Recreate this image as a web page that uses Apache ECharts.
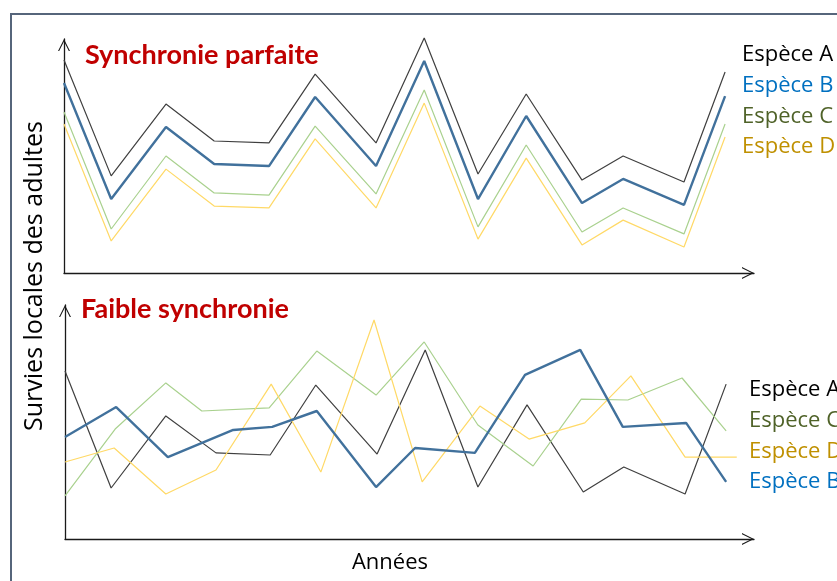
<!DOCTYPE html>
<html>
<head>
<meta charset="utf-8">
<script src="https://cdn.jsdelivr.net/npm/echarts@6/dist/echarts.min.js"></script>
<style>
  html, body { margin: 0; padding: 0; background: #fff; }
  #chart { width: 837px; height: 581px; }
</style>
</head>
<body>
<div id="chart"></div>
<script>
// Top panel: perfect synchrony (same years for all species)
const topYears = [0, 0.93, 2.01, 2.96, 4.04, 4.95, 6.15, 7.10, 8.16, 9.11, 10.21, 11.02, 12.22, 13.03];
const topA = [91.0, 41.5, 72.2, 56.4, 55.6, 85.0, 55.6, 100.4, 42.3, 76.5, 39.7, 50.0, 38.9, 85.9];
const topB = [81.2, 31.6, 62.4, 46.6, 45.7, 75.2, 45.7, 90.6, 31.6, 67.1, 29.9, 40.2, 29.1, 75.6];
const topC = [68.8, 18.8, 50.0, 34.2, 33.3, 62.8, 33.8, 78.2, 19.7, 54.7, 17.5, 27.8, 16.7, 63.7];
const topD = [63.7, 13.7, 44.4, 28.6, 27.8, 57.3, 27.8, 72.6, 14.5, 49.1, 12.0, 22.6, 11.1, 58.1];

// Bottom panel: weak synchrony (hand drawn, years differ slightly)
const lowYearsA = [0, 0.91, 1.99, 2.98, 4.05, 4.95, 6.16, 7.11, 8.15, 9.12, 10.23, 11.03, 12.24, 13.05];
const lowA = [71.8, 21.8, 52.6, 36.8, 35.9, 65.8, 36.3, 80.8, 22.2, 57.3, 20.1, 30.8, 19.2, 66.2];
const lowYearsB = [0, 1.01, 2.03, 3.32, 4.09, 4.97, 6.14, 6.91, 8.09, 9.08, 10.17, 11.01, 12.26, 13.05];
const lowB = [43.6, 56.4, 35.0, 46.6, 47.9, 54.7, 22.2, 38.9, 36.8, 70.1, 80.8, 47.9, 49.6, 24.4];
const lowYearsC = [0, 0.99, 1.99, 2.70, 4.03, 4.97, 6.14, 7.09, 8.15, 9.24, 10.19, 11.11, 12.18, 13.05];
const lowC = [18.4, 47.0, 66.7, 54.7, 56.0, 80.3, 61.5, 84.2, 48.7, 31.2, 59.8, 59.4, 68.8, 46.2];
const lowYearsD = [0, 0.97, 1.99, 2.98, 4.07, 5.05, 6.10, 7.05, 8.19, 9.16, 10.26, 11.17, 12.24, 13.07, 13.26];
const lowD = [32.9, 38.9, 19.2, 29.5, 66.2, 28.6, 93.6, 24.4, 56.8, 42.7, 49.6, 69.7, 35.0, 35.0, 35.0];

const speciesTop = ['Espèce A', 'Espèce B', 'Espèce C', 'Espèce D'];
const speciesLow = ['Espèce A', 'Espèce C', 'Espèce D', 'Espèce B'];

const lineColors = { 'Espèce A': '#3f3f3f', 'Espèce B': '#41719c', 'Espèce C': '#a9d18e', 'Espèce D': '#ffd966' };
const lineWidths = { 'Espèce A': 1.2, 'Espèce B': 2.4, 'Espèce C': 1.2, 'Espèce D': 1.2 };
const textColors = { 'Espèce A': '#000000', 'Espèce B': '#0070c0', 'Espèce C': '#4f6228', 'Espèce D': '#bf9000' };

const chart = echarts.init(document.getElementById('chart'), null, { renderer: 'canvas' });

const pairs = (xs, ys) => xs.map((x, i) => [x, ys[i]]);
const arrowPath = 'path://M0,10 L5,0 L10,10 L9,10 L5,2 L1,10 Z';

const axisLine = {
  show: true,
  symbol: ['none', arrowPath],
  symbolSize: [12, 12],
  symbolOffset: [0, -6],
  lineStyle: { color: '#1a1a1a', width: 1.3 }
};

const makeX = gridIndex => ({
  type: 'value', gridIndex, min: 0, max: 13.6,
  axisLine, axisTick: { show: false }, axisLabel: { show: false }, splitLine: { show: false }
});
const makeY = gridIndex => ({
  type: 'value', gridIndex, min: 0, max: 100,
  axisLine, axisTick: { show: false }, axisLabel: { show: false }, splitLine: { show: false }
});

const makeLine = (name, data, idx) => ({
  name, type: 'line', xAxisIndex: idx, yAxisIndex: idx,
  data, symbol: 'none', clip: false, animation: false,
  lineStyle: { color: lineColors[name], width: lineWidths[name] },
  z: name === 'Espèce B' ? 3 : 2
});

const topData = { 'Espèce A': pairs(topYears, topA), 'Espèce B': pairs(topYears, topB), 'Espèce C': pairs(topYears, topC), 'Espèce D': pairs(topYears, topD) };
const lowData = { 'Espèce A': pairs(lowYearsA, lowA), 'Espèce B': pairs(lowYearsB, lowB), 'Espèce C': pairs(lowYearsC, lowC), 'Espèce D': pairs(lowYearsD, lowD) };

const legendText = (list, x, y0, step) => list.map((name, i) => ({
  type: 'text', x, y: y0 + i * step,
  style: { text: name, fill: textColors[name], font: '22px "Open Sans"', align: 'left', verticalAlign: 'middle' }
}));

chart.setOption({
  animation: false,
  grid: [
    { left: 64, top: 39, width: 690, height: 234 },
    { left: 65, top: 305, width: 689, height: 234 }
  ],
  xAxis: [makeX(0), makeX(1)],
  yAxis: [makeY(0), makeY(1)],
  series: [
    ...speciesTop.map(n => makeLine(n, topData[n], 0)),
    ...speciesLow.map(n => makeLine(n, lowData[n], 1))
  ],
  graphic: [
    { type: 'rect', shape: { x: 11, y: 14, width: 900, height: 700 }, style: { fill: 'none', stroke: '#56657b', lineWidth: 2 }, z: -1 },
    { type: 'text', x: 85, y: 55, style: { text: 'Synchronie parfaite', fill: '#c00000', font: 'bold 27px Lato', verticalAlign: 'middle' } },
    { type: 'text', x: 81, y: 309, style: { text: 'Faible synchronie', fill: '#c00000', font: 'bold 27px Lato', verticalAlign: 'middle' } },
    { type: 'text', x: 35, y: 276, rotation: Math.PI / 2, style: { text: 'Survies locales des adultes', fill: '#000', font: '25px "Open Sans"', align: 'center', verticalAlign: 'middle' } },
    { type: 'text', x: 390, y: 563, style: { text: 'Années', fill: '#000', font: '22px "Open Sans"', align: 'center', verticalAlign: 'middle' } },
    ...legendText(speciesTop, 742, 55, 30.7),
    ...legendText(speciesLow, 749, 390, 30.7)
  ]
});
</script>
</body>
</html>
